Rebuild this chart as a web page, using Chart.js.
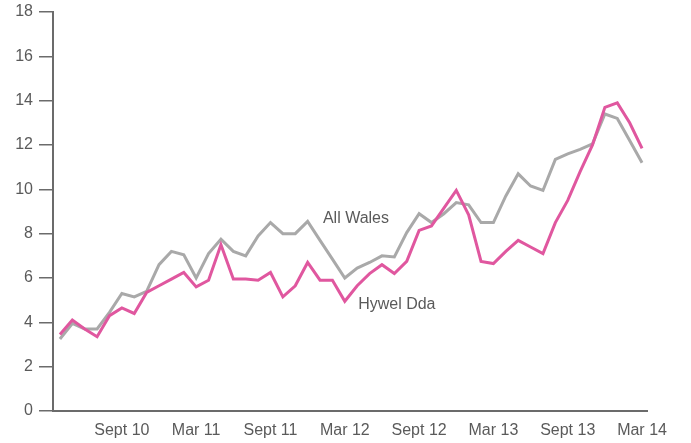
<!DOCTYPE html>
<html>
<head>
<meta charset="utf-8">
<script src="https://cdn.jsdelivr.net/npm/chart.js@4.4.1/dist/chart.umd.min.js"></script>
<style>
  html, body { margin: 0; padding: 0; background: #fff; }
  #wrap { width: 691px; height: 443px; position: relative; }
</style>
</head>
<body>
<div id="wrap"><canvas id="chart"></canvas></div>
<script>
// Monthly values, Apr 2010 to Mar 2014
const months = [
  'Apr 10','May 10','Jun 10','Jul 10','Aug 10','Sep 10','Oct 10','Nov 10','Dec 10','Jan 11','Feb 11','Mar 11',
  'Apr 11','May 11','Jun 11','Jul 11','Aug 11','Sep 11','Oct 11','Nov 11','Dec 11','Jan 12','Feb 12','Mar 12',
  'Apr 12','May 12','Jun 12','Jul 12','Aug 12','Sep 12','Oct 12','Nov 12','Dec 12','Jan 13','Feb 13','Mar 13',
  'Apr 13','May 13','Jun 13','Jul 13','Aug 13','Sep 13','Oct 13','Nov 13','Dec 13','Jan 14','Feb 14','Mar 14'
];

const allWales = [
  3.25, 3.95, 3.7, 3.7, 4.45, 5.3, 5.15, 5.4, 6.6, 7.2, 7.05, 6.0,
  7.1, 7.75, 7.2, 7.0, 7.9, 8.5, 8.0, 8.0, 8.55, 7.7, 6.85, 6.0,
  6.45, 6.7, 7.0, 6.95, 8.05, 8.9, 8.5, 8.9, 9.4, 9.3, 8.5, 8.5,
  9.7, 10.7, 10.15, 9.95, 11.35, 11.6, 11.8, 12.05, 13.4, 13.2, 12.2, 11.2
];

const hywelDda = [
  3.45, 4.1, 3.7, 3.35, 4.3, 4.65, 4.4, 5.35, 5.65, 5.95, 6.25, 5.6,
  5.9, 7.5, 5.95, 5.95, 5.9, 6.25, 5.15, 5.65, 6.7, 5.9, 5.9, 4.95,
  5.65, 6.2, 6.6, 6.2, 6.75, 8.15, 8.35, 9.15, 9.95, 8.85, 6.75, 6.65,
  7.2, 7.7, 7.4, 7.1, 8.5, 9.5, 10.8, 12.0, 13.7, 13.9, 13.0, 11.85
];

const tickMonths = ['Sep 10','Mar 11','Sep 11','Mar 12','Sep 12','Mar 13','Sep 13','Mar 14'];
const tickLabels = ['Sept 10','Mar 11','Sept 11','Mar 12','Sept 12','Mar 13','Sept 13','Mar 14'];

// series name labels placed in data coordinates (month index, value)
const seriesLabels = [
  { text: 'All Wales', x: 23.9, y: 8.7 },
  { text: 'Hywel Dda', x: 27.2, y: 4.78 }
];

const toPoints = arr => arr.map((v, i) => ({ x: i, y: v }));
const tickIdx = tickMonths.map(m => months.indexOf(m));

const textColor = '#5a5a5a';
const axisColor = '#6b6b6b';
const fontFamily = '"Liberation Sans", Arial, sans-serif';

const labelPlugin = {
  id: 'seriesLabels',
  afterDatasetsDraw(chart) {
    const { ctx, scales } = chart;
    ctx.save();
    ctx.font = '16px ' + fontFamily;
    ctx.fillStyle = textColor;
    ctx.textAlign = 'center';
    ctx.textBaseline = 'middle';
    seriesLabels.forEach(l => {
      ctx.fillText(l.text, scales.x.getPixelForValue(l.x), scales.y.getPixelForValue(l.y));
    });
    ctx.restore();
  }
};

new Chart(document.getElementById('chart'), {
  type: 'line',
  data: {
    datasets: [
      {
        label: 'Hywel Dda',
        data: toPoints(hywelDda),
        borderColor: '#e0579f',
        borderWidth: 3,
        pointRadius: 0,
        tension: 0,
        fill: false
      },
      {
        label: 'All Wales',
        data: toPoints(allWales),
        borderColor: '#a9a9a9',
        borderWidth: 3,
        pointRadius: 0,
        tension: 0,
        fill: false
      }
    ]
  },
  options: {
    responsive: true,
    maintainAspectRatio: false,
    animation: false,
    events: [],
    layout: { padding: { top: 12, right: 44, left: 0, bottom: 0 } },
    plugins: {
      legend: { display: false },
      tooltip: { enabled: false }
    },
    scales: {
      x: {
        type: 'linear',
        min: -0.56,
        max: 47.4,
        grid: { display: false, drawTicks: false },
        border: { display: true, color: axisColor, width: 2 },
        afterBuildTicks: scale => {
          scale.ticks = tickIdx.map(v => ({ value: v }));
        },
        afterFit: scale => {
          scale.height = 32;
          scale.paddingLeft = 0;
          scale.paddingRight = 0;
        },
        ticks: {
          autoSkip: false,
          maxRotation: 0,
          padding: 10,
          color: textColor,
          font: { family: fontFamily, size: 16 },
          callback: (value) => tickLabels[tickIdx.indexOf(value)]
        }
      },
      y: {
        min: 0,
        max: 18,
        grid: {
          drawOnChartArea: false,
          drawTicks: true,
          tickLength: 14,
          color: axisColor,
          lineWidth: 1.5
        },
        border: { display: true, color: axisColor, width: 2 },
        afterFit: scale => {
          scale.width = 53;
          scale.paddingTop = 0;
          scale.paddingBottom = 0;
        },
        ticks: {
          stepSize: 2,
          padding: 6,
          color: textColor,
          font: { family: fontFamily, size: 16 }
        }
      }
    }
  },
  plugins: [labelPlugin]
});
</script>
</body>
</html>
